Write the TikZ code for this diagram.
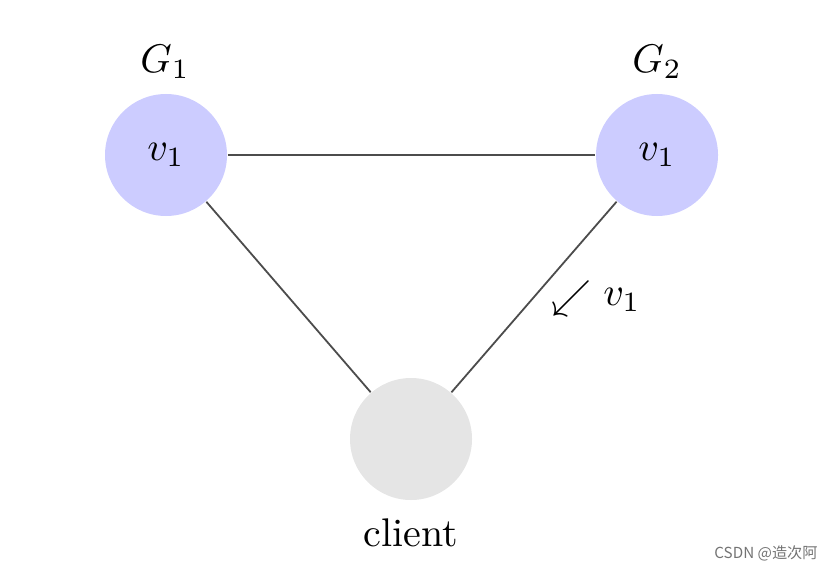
\documentclass[tikz,border=0pt]{standalone}
\usepackage{fontspec}
\newfontfamily\cjk{Noto Sans CJK SC}
\begin{document}
\begin{tikzpicture}[x=0.25pt,y=-0.25pt,
  server/.style={circle,fill=blue!20,minimum size=30.5pt,inner sep=0pt},
  clientnode/.style={circle,fill=gray!20,minimum size=30.5pt,inner sep=0pt},
  link/.style={draw=black!70,line width=0.45pt}]
\useasboundingbox (0,0) rectangle (831,577);
\node[server] (g1) at (166,155) {$v_1$};
\node[server] (g2) at (657,155) {$v_1$};
\node[clientnode] (c) at (411,439) {};
\node (g1lab) at (165,62) {$G_1$};
\node (g2lab) at (657,62) {$G_2$};
\node (clab) at (411,533) {client};
\draw[link] (g1) -- (g2);
\draw[link] (g1) -- (c);
\draw[link] (g2) -- (c);
\node (arr) at (571,298) {$\swarrow$};
\node (alab) at (622,300) {$v_1$};
\node[text=black!55,font=\cjk\fontsize{3.8pt}{5pt}\selectfont] (wm) at (766,553) {CSDN @造次阿};
\end{tikzpicture}
\end{document}
